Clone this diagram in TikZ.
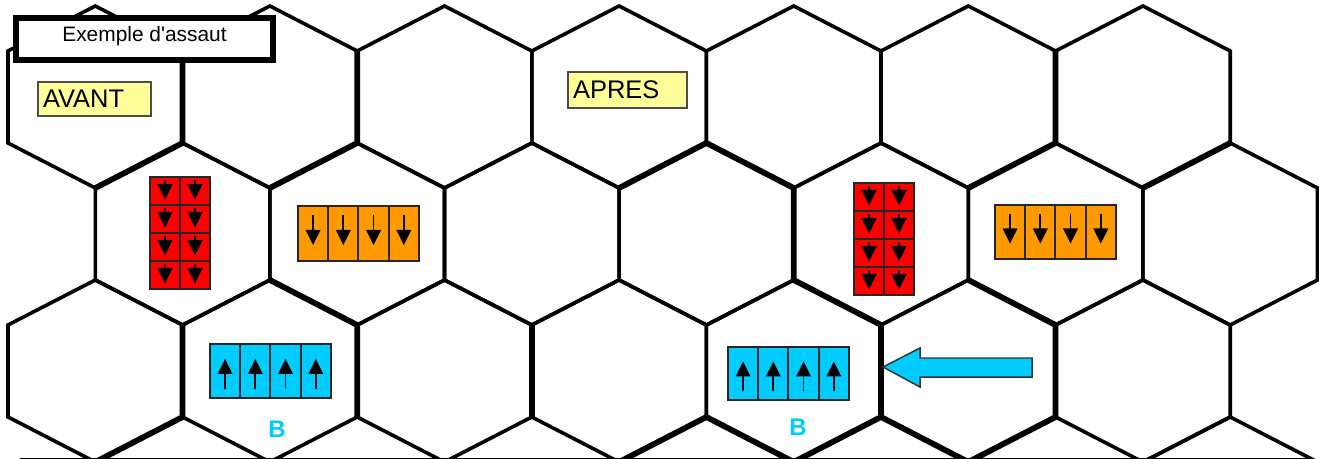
\documentclass[tikz,border=0pt]{standalone}
\usepackage{fontspec}
\setmainfont{Liberation Sans}
\usetikzlibrary{arrows.meta, positioning}

\definecolor{unitred}{HTML}{FF0000}
\definecolor{unitorange}{HTML}{FF9900}
\definecolor{unitblue}{HTML}{00CCFF}
\definecolor{notefill}{HTML}{FFFF99}

\begin{document}
\begin{tikzpicture}[
    x=0.02cm, y=-0.02cm,
    hexline/.style={line width=0.072cm},
    hexthick/.style={line width=0.115cm},
    hexcell/.pic={\draw[hexline] (0,-91) -- (87.3,-46) -- (87.3,46) -- (0,91) -- (-87.3,46) -- (-87.3,-46) -- cycle;},
    titlebox/.style={rectangle, draw, line width=0.12cm, fill=white, minimum width=5.14cm, minimum height=0.84cm,
        inner ysep=0.12cm, text height=0.35cm, text depth=0.25cm, font=\fontsize{11.9}{14}\selectfont},
    note/.style={rectangle, draw=black!70, line width=0.03cm, fill=notefill, align=left, inner xsep=0.1cm,
        inner ysep=0pt, font=\fontsize{14.5}{17}\selectfont},
    unitbox/.style={rectangle, draw=black!85, line width=0.04cm, outer sep=0pt, inner sep=0pt},
    redunit/.style={unitbox, fill=unitred, minimum width=0.6cm, minimum height=0.56cm,
        path picture={\coordinate (c) at (path picture bounding box.center);
            \draw[black, line width=0.03cm, shift={(c)}] (0cm,0.22cm) -- (0cm,0.12cm);
            \fill[black, shift={(c)}] (-0.155cm,0.14cm) -- (0.155cm,0.14cm) -- (0cm,-0.17cm) -- cycle;}},
    orangeunit/.style={unitbox, fill=unitorange, minimum width=0.605cm, minimum height=1.1cm,
        path picture={\coordinate (c) at (path picture bounding box.center);
            \draw[black, line width=0.035cm, shift={(c)}] (0cm,0.37cm) -- (0cm,0.05cm);
            \fill[black, shift={(c)}] (-0.15cm,0.07cm) -- (0.15cm,0.07cm) -- (0cm,-0.23cm) -- cycle;}},
    blueunit/.style={unitbox, fill=unitblue, minimum width=0.605cm, minimum height=1.08cm,
        path picture={\coordinate (c) at (path picture bounding box.center);
            \draw[black, line width=0.035cm, shift={(c)}] (0cm,-0.36cm) -- (0cm,-0.04cm);
            \fill[black, shift={(c)}] (-0.15cm,-0.06cm) -- (0.15cm,-0.06cm) -- (0cm,0.24cm) -- cycle;}},
    unitlabel/.style={text=unitblue, font=\bfseries\fontsize{13.7}{16}\selectfont},
    movearrow/.style={draw=black!80, line width=0.03cm, fill=unitblue}
]
\useasboundingbox (0,0) rectangle (1319,459);

% hex grid
\begin{scope}
\clip (0,0) rectangle (1319,458);
\pic at (95.3,97) {hexcell};
\pic at (269.9,97) {hexcell};
\pic at (444.5,97) {hexcell};
\pic at (619.1,97) {hexcell};
\pic at (793.7,97) {hexcell};
\pic at (968.3,97) {hexcell};
\pic at (1142.9,97) {hexcell};

\pic at (182.6,234) {hexcell};
\pic at (357.2,234) {hexcell};
\pic at (531.8,234) {hexcell};
\pic at (706.4,234) {hexcell};
\pic at (881,234) {hexcell};
\pic at (1055.6,234) {hexcell};
\pic at (1230.2,234) {hexcell};

\pic at (95.3,371) {hexcell};
\pic at (269.9,371) {hexcell};
\pic at (444.5,371) {hexcell};
\pic at (619.1,371) {hexcell};
\pic at (793.7,371) {hexcell};
\pic at (968.3,371) {hexcell};
\pic at (1142.9,371) {hexcell};

\pic at (1230.2,508) {hexcell};

% doubled edges
\draw[hexthick] (182.6,51) -- (182.6,143) -- (95.3,188);
\draw[hexthick] (357.2,51) -- (357.2,143) -- (269.9,188);
\draw[hexthick] (619.1,188) -- (706.4,143) -- (793.7,188) -- (793.7,280) -- (881,325);
\draw[hexthick] (1055.6,51) -- (1055.6,143) -- (968.3,188);
\draw[hexthick] (1142.9,188) -- (1230.2,143);
\draw[hexthick] (269.9,280) -- (357.2,325) -- (357.2,417);
\draw[hexthick] (182.6,325) -- (182.6,417) -- (95.3,462);
\draw[hexthick] (531.8,325) -- (531.8,417);
\draw[hexthick] (619.1,462) -- (706.4,417) -- (793.7,462) -- (881,417) -- (968.3,462) -- (1055.6,417) -- (1055.6,325) -- (968.3,280);
\draw[hexthick] (881,325) -- (881,417);
\end{scope}

\node[titlebox] (title) at (144.5,39) {Exemple d\textquotesingle assaut};
\node[note, text width=2.06cm, minimum height=0.68cm] (avant) at (94.5,99) {AVANT};
\node[note, text width=2.18cm, minimum height=0.72cm] (apres) at (627.5,90) {APRES};

% before
\node[redunit] (rl1) at (165,191) {};
\node[redunit, right=0pt of rl1] (rl2) {};
\node[redunit, below=0pt of rl1] (rl3) {};
\node[redunit, right=0pt of rl3] (rl4) {};
\node[redunit, below=0pt of rl3] (rl5) {};
\node[redunit, right=0pt of rl5] (rl6) {};
\node[redunit, below=0pt of rl5] (rl7) {};
\node[redunit, right=0pt of rl7] (rl8) {};

\node[orangeunit] (ol1) at (313.1,233.5) {};
\node[orangeunit, right=0pt of ol1] (ol2) {};
\node[orangeunit, right=0pt of ol2] (ol3) {};
\node[orangeunit, right=0pt of ol3] (ol4) {};

\node[blueunit] (bl1) at (225.1,371) {};
\node[blueunit, right=0pt of bl1] (bl2) {};
\node[blueunit, right=0pt of bl2] (bl3) {};
\node[blueunit, right=0pt of bl3] (bl4) {};
\node[unitlabel] (blabel) at (277,429) {B};

% after
\node[redunit] (rr1) at (869,197) {};
\node[redunit, right=0pt of rr1] (rr2) {};
\node[redunit, below=0pt of rr1] (rr3) {};
\node[redunit, right=0pt of rr3] (rr4) {};
\node[redunit, below=0pt of rr3] (rr5) {};
\node[redunit, right=0pt of rr5] (rr6) {};
\node[redunit, below=0pt of rr5] (rr7) {};
\node[redunit, right=0pt of rr7] (rr8) {};

\node[orangeunit] (or1) at (1010.1,232) {};
\node[orangeunit, right=0pt of or1] (or2) {};
\node[orangeunit, right=0pt of or2] (or3) {};
\node[orangeunit, right=0pt of or3] (or4) {};

\node[blueunit] (br1) at (743.1,373.5) {};
\node[blueunit, right=0pt of br1] (br2) {};
\node[blueunit, right=0pt of br2] (br3) {};
\node[blueunit, right=0pt of br3] (br4) {};
\node[unitlabel] (brlabel) at (798,427) {B};

\draw[movearrow] (883,367) -- (920,348) -- (920,358) -- (1032,358) -- (1032,377) -- (920,377) -- (920,387) -- cycle;

\draw[line width=0.02cm] (20,458) -- (1310,458);

\end{tikzpicture}
\end{document}
